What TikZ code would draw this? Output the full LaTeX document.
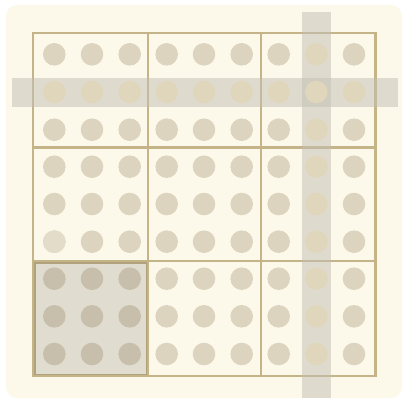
\documentclass[tikz,border=0pt]{standalone}
\usetikzlibrary{calc}
\definecolor{pagebg}{HTML}{FFFFFF}
\definecolor{cream}{HTML}{FDF9EA}
\definecolor{gridline}{HTML}{C4B488}
\definecolor{dot}{HTML}{DCD4BF}
\definecolor{dotband}{HTML}{DFD6BC}
\definecolor{dotlight}{HTML}{E3DCC8}
\definecolor{bandc}{HTML}{C1BFB4}
\definecolor{boxfill}{HTML}{E0DDD0}
\definecolor{boxdot}{HTML}{C7BEAB}
\definecolor{boxline}{HTML}{B0A27A}
\tikzset{
  dotstyle/.style={circle, fill=dot, draw=none, minimum size=22.6pt, inner sep=0pt},
  banddot/.style={dotstyle, fill=dotband},
  boxdotstyle/.style={dotstyle, fill=boxdot},
  band/.style={fill=bandc, fill opacity=0.5, draw=none},
  gridl/.style={draw=gridline, line width=2.3pt},
}
\begin{document}
\begin{tikzpicture}[x=1pt,y=-1pt]
\useasboundingbox (0,0) rectangle (402,400);
\fill[pagebg] (0,0) rectangle (402,400);
\fill[cream, rounded corners=11pt] (6,5) rectangle (402,398);
% highlighted box
\fill[boxfill] (33,261) rectangle (148,376);
\draw[boxline, line width=2pt] (34.5,262.5) rectangle (146.5,374.5);
% grid
\draw[gridl] (33,33) rectangle (375.5,376);
\draw[gridl] (148,33) -- (148,376);
\draw[gridl] (261,33) -- (261,376);
\draw[gridl] (33,147.5) -- (375.5,147.5);
\draw[gridl] (33,261) -- (375.5,261);
% bands
\fill[band] (12,78.3) rectangle (397.7,106.7);
\fill[band] (302.3,12.3) rectangle (330.7,398);
% dots
\foreach \cx [count=\i] in {54.3,92,129.7,166.7,204,241.7,278.7,316.3,354}{
  \foreach \cy [count=\j] in {54.3,92,129.7,166.7,204,241.7,278.7,316.3,354}{
    \pgfmathtruncatemacro{\inband}{(\i==8) || (\j==2) ? 1 : 0}
    \pgfmathtruncatemacro{\inbox}{(\i<4) && (\j>6) ? 1 : 0}
    \ifnum\inbox=1
      \node[boxdotstyle] (d-\i-\j) at (\cx,\cy) {};
    \else\ifnum\inband=1
      \node[banddot] (d-\i-\j) at (\cx,\cy) {};
    \else
      \node[dotstyle] (d-\i-\j) at (\cx,\cy) {};
    \fi\fi
  }
}
\node[dotstyle, fill=dotlight] at (d-1-6) {};
\end{tikzpicture}
\end{document}
